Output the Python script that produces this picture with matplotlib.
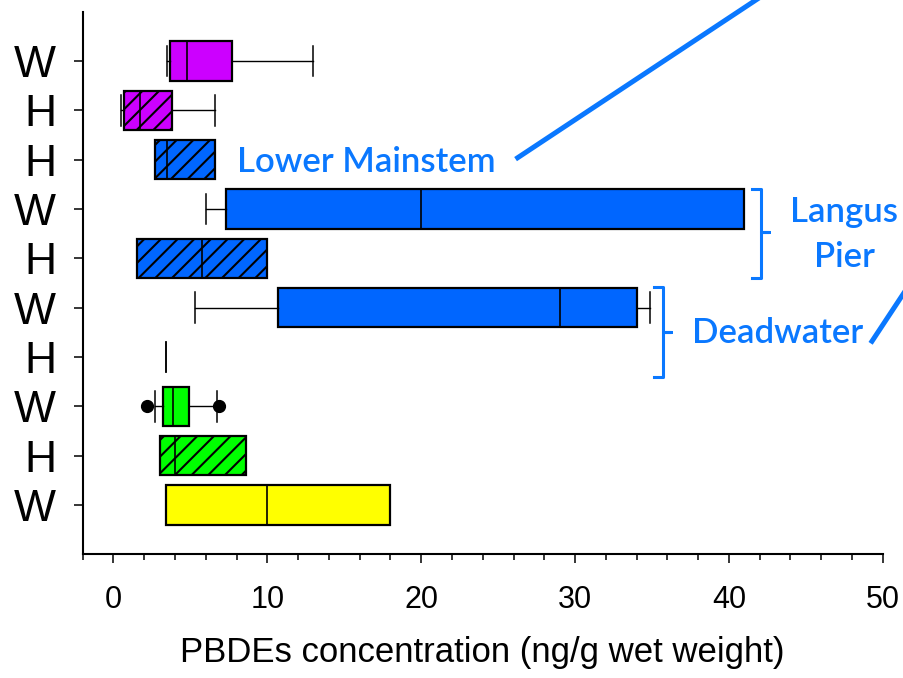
'''
PBDEs concentration box plot, W/H samples by site
'''

import matplotlib.pyplot as plt

plt.rcParams['font.family'] = ['Liberation Sans', 'DejaVu Sans']
plt.rcParams['hatch.linewidth'] = 1.5

# rows from bottom to top
ROW_LABELS = ['W', 'H', 'W', 'H', 'W', 'H', 'W', 'H', 'H', 'W']
ROW_COLORS = ['#ffff00', '#00ff00', '#00ff00', '#0066ff', '#0066ff',
              '#0066ff', '#0066ff', '#0066ff', '#cc00ff', '#cc00ff']
WHIS_LO = [3.4, 3.0, 2.7, 3.4, 5.3, 1.5, 6.0, 2.7, 0.47, 3.5]
Q1 = [3.4, 3.0, 3.25, 3.4, 10.7, 1.5, 7.3, 2.7, 0.7, 3.7]
MED = [10.0, 4.0, 3.9, 3.4, 29.0, 5.75, 20.0, 3.5, 1.7, 4.8]
Q3 = [18.0, 8.6, 4.9, 3.4, 34.0, 10.0, 41.0, 6.6, 3.8, 7.7]
WHIS_HI = [18.0, 8.6, 6.7, 3.4, 34.9, 10.0, 41.0, 6.6, 6.6, 13.0]
FLIERS = [[], [], [2.2, 6.85], [], [], [], [], [], [], []]

TEXT_BLUE = '#0a78ff'


def build_stats():
    '''
    collect the per row numbers into the dicts that Axes.bxp wants
    '''
    stats = []
    for i in range(len(ROW_LABELS)):
        stats.append({'whislo': WHIS_LO[i], 'q1': Q1[i], 'med': MED[i],
                      'q3': Q3[i], 'whishi': WHIS_HI[i], 'fliers': FLIERS[i]})
    return stats


fig = plt.figure(figsize=(9.04, 6.78), dpi=100)
ax = fig.add_axes([0.0915, 0.1824, 0.885, 0.8003])

positions = list(range(1, len(ROW_LABELS) + 1))
art = ax.bxp(build_stats(), positions=positions, widths=0.8,
             capwidths=0.62, orientation='horizontal', patch_artist=True,
             boxprops={'linewidth': 1.6, 'edgecolor': 'black'},
             medianprops={'color': 'black', 'linewidth': 1.2},
             whiskerprops={'color': 'black', 'linewidth': 1.0},
             capprops={'color': 'black', 'linewidth': 1.1},
             flierprops={'marker': 'o', 'markerfacecolor': 'black',
                         'markeredgecolor': 'black', 'markersize': 8.5})

for i, box in enumerate(art['boxes']):
    box.set_facecolor(ROW_COLORS[i])
    if ROW_LABELS[i] == 'H':
        box.set_hatch('//')
    # single value row: only the cap line is shown
    if Q1[i] == Q3[i]:
        box.set_visible(False)
        art['medians'][i].set_visible(False)

ax.set_xlim(-2, 50)
ax.set_ylim(0, 11)
ax.set_xticks(range(0, 51, 10))
ax.set_xticks(range(-2, 51, 2), minor=True)
ax.set_yticks(positions)
ax.set_yticklabels(ROW_LABELS)

for side in ['top', 'right']:
    ax.spines[side].set_visible(False)
for side in ['left', 'bottom']:
    ax.spines[side].set_linewidth(1.5)

ax.tick_params(axis='x', which='major', length=6.2, width=1.1,
               labelsize=22, pad=16)
ax.tick_params(axis='x', which='minor', length=4.3, width=1.1)
ax.tick_params(axis='y', length=6.2, width=1.1, labelsize=32, pad=13)
ax.set_xlabel('PBDEs concentration (ng/g wet weight)', fontsize=25,
              labelpad=15)

# site annotations
note_font = {'family': ['Lato', 'DejaVu Sans'], 'weight': 'semibold',
             'size': 25, 'color': TEXT_BLUE}
ax.text(8.0, 7.76, 'Lower Mainstem', ha='left', va='baseline',
        clip_on=False, **note_font)
ax.text(47.5, 6.73, 'Langus', ha='center', va='baseline',
        clip_on=False, **note_font)
ax.text(47.5, 5.82, 'Pier', ha='center', va='baseline',
        clip_on=False, **note_font)
ax.text(43.17, 4.28, 'Deadwater', ha='center', va='baseline',
        clip_on=False, **note_font)

# brackets
ax.plot([41.5, 42.1, 42.1, 42.6, 42.1, 42.1, 41.5],
        [7.40, 7.40, 6.53, 6.53, 6.53, 5.60, 5.60],
        color=TEXT_BLUE, linewidth=2.2, clip_on=False,
        solid_joinstyle='round')
ax.plot([35.15, 35.73, 35.73, 36.25, 35.73, 35.73, 35.15],
        [5.41, 5.41, 4.50, 4.50, 4.50, 3.59, 3.59],
        color=TEXT_BLUE, linewidth=2.2, clip_on=False,
        solid_joinstyle='round')

# pointer lines running off the figure
ax.plot([26.27, 41.96], [8.04, 11.28], color=TEXT_BLUE, linewidth=3.6,
        clip_on=False)
ax.plot([49.3, 52.35], [4.32, 5.76], color=TEXT_BLUE, linewidth=3.6,
        clip_on=False)

fig.savefig('out.png', dpi=100)
